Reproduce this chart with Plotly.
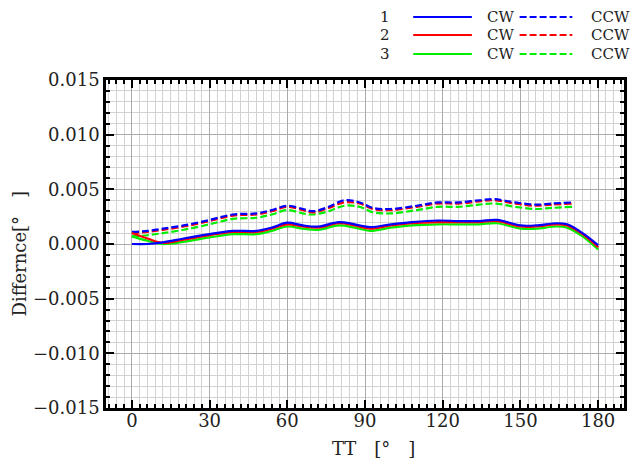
import plotly.graph_objects as go

# ---- data ----
tt_cw = [0, 6, 12, 20, 30, 39, 48, 54, 60, 66, 72, 80, 86, 92, 100, 108, 118, 126, 134, 141, 150, 156, 164, 168, 174, 180]
cw1 = [0.0, 0.0, 0.00015, 0.0005, 0.0009, 0.0012, 0.0012, 0.0015, 0.00195, 0.0017, 0.0016, 0.0020, 0.0018, 0.00155,
       0.0018, 0.0020, 0.00215, 0.0021, 0.0021, 0.0022, 0.0017, 0.0017, 0.0019, 0.0018, 0.0010, -0.0001]
cw2 = [0.0010, 0.0005, 0.0001, 0.0004, 0.0008, 0.0011, 0.0011, 0.0014, 0.0018, 0.0016, 0.0015, 0.0019, 0.0017, 0.0014,
       0.0017, 0.0019, 0.0020, 0.0020, 0.0020, 0.0021, 0.0016, 0.0016, 0.0018, 0.0017, 0.0009, -0.0003]
cw3 = [0.0007, 0.0003, 0.0000, 0.0002, 0.0006, 0.0009, 0.0009, 0.0012, 0.0016, 0.0014, 0.0013, 0.0017, 0.0015, 0.0012,
       0.0015, 0.0017, 0.0018, 0.0018, 0.0018, 0.0019, 0.0014, 0.0014, 0.0016, 0.0015, 0.0007, -0.0005]

tt_ccw = [0, 6, 12, 20, 30, 39, 48, 54, 60, 66, 70, 76, 82, 88, 93, 100, 110, 118, 126, 134, 140, 148, 156, 162, 170]
ccw1 = [0.0011, 0.0012, 0.0014, 0.0017, 0.0022, 0.0027, 0.0028, 0.0031, 0.0035, 0.0032, 0.0030, 0.0034, 0.0040, 0.0038,
        0.0033, 0.0032, 0.0035, 0.0038, 0.0038, 0.0040, 0.0041, 0.0038, 0.0036, 0.0037, 0.0038]
ccw2 = [0.0010, 0.0011, 0.0013, 0.0016, 0.0021, 0.0026, 0.0027, 0.0030, 0.0034, 0.0031, 0.0029, 0.0033, 0.0038, 0.0037,
        0.0032, 0.0031, 0.0034, 0.0037, 0.0037, 0.0039, 0.0040, 0.0037, 0.0035, 0.0036, 0.0037]
ccw3 = [0.0007, 0.0008, 0.0010, 0.0013, 0.0018, 0.0023, 0.0024, 0.0027, 0.0031, 0.0028, 0.0027, 0.0030, 0.0035, 0.0034,
        0.0029, 0.0028, 0.0031, 0.0034, 0.0034, 0.0036, 0.0037, 0.0034, 0.0032, 0.0033, 0.0034]

series_names = ["1", "2", "3"]
colors = ["#0000ff", "#ff0000", "#00ee00"]
x_ticks = [0, 30, 60, 90, 120, 150, 180]
y_ticks = [-0.015, -0.010, -0.005, 0.000, 0.005, 0.010, 0.015]
y_tick_text = ["\u22120.015", "\u22120.010", "\u22120.005", "0.000", "0.005", "0.010", "0.015"]

FONT = "DejaVu Serif"
DASH = "7px,3px"

fig = go.Figure()
for ys, c in zip([ccw3, ccw2, ccw1], colors[::-1]):
    fig.add_trace(go.Scatter(x=tt_ccw, y=ys, mode="lines", line=dict(color=c, width=2.2, dash=DASH, shape="spline"),
                             showlegend=False))
for ys, c in zip([cw3, cw2, cw1], colors[::-1]):
    fig.add_trace(go.Scatter(x=tt_cw, y=ys, mode="lines", line=dict(color=c, width=2.2, shape="spline"),
                             showlegend=False))

fig.update_layout(
    width=635, height=460,
    margin=dict(l=106, r=8, t=80, b=52),
    paper_bgcolor="white", plot_bgcolor="white",
    font=dict(family=FONT, size=18, color="#222"),
)
fig.update_xaxes(
    range=[-10, 190], tickvals=x_ticks, ticks="inside", ticklen=8, tickwidth=1.5, tickcolor="black",
    showgrid=True, gridcolor="#ababab", gridwidth=1.2,
    minor=dict(dtick=3, tick0=0, ticks="inside", ticklen=4, tickcolor="black", showgrid=True, gridcolor="#d2d2d2", gridwidth=1),
    showline=True, linecolor="black", linewidth=2.5, mirror="allticks", zeroline=False,
    tickfont=dict(family=FONT, size=18), ticklabelstandoff=-5,
)
fig.update_yaxes(
    range=[-0.015, 0.015], tickvals=y_ticks, ticktext=y_tick_text, ticks="inside", ticklen=8, tickwidth=1.5, tickcolor="black",
    showgrid=True, gridcolor="#ababab", gridwidth=1.2,
    minor=dict(dtick=0.001, tick0=0, ticks="inside", ticklen=4, tickcolor="black", showgrid=True, gridcolor="#d2d2d2", gridwidth=1),
    showline=True, linecolor="black", linewidth=2.5, mirror="allticks", zeroline=False,
    tickfont=dict(family=FONT, size=18),
)

# axis titles
fig.add_annotation(text="TT\u3000[°\u3000]", xref="paper", yref="paper", x=(375 - 106) / 521, y=(408 - 448) / 328,
                   showarrow=False, font=dict(family=FONT, size=18), xanchor="center", yanchor="middle")
fig.add_annotation(text="Differnce[°\u3000]", xref="paper", yref="paper", x=(18 - 106) / 521, y=(408 - 254) / 328,
                   showarrow=False, textangle=-90, font=dict(family=FONT, size=18), xanchor="center", yanchor="middle")

# custom legend
def px_x(p):
    return (p - 106) / 521

def px_y(p):
    return (408 - p) / 328

row_y = [17, 35, 54]
for name, c, ry in zip(series_names, colors, row_y):
    fig.add_annotation(text=name, xref="paper", yref="paper", x=px_x(387), y=px_y(ry), showarrow=False,
                       font=dict(family=FONT, size=15), xanchor="center", yanchor="middle")
    fig.add_shape(type="line", xref="paper", yref="paper", x0=px_x(415), x1=px_x(474), y0=px_y(ry), y1=px_y(ry),
                  line=dict(color=c, width=2.2))
    fig.add_annotation(text="CW", xref="paper", yref="paper", x=px_x(503), y=px_y(ry), showarrow=False,
                       font=dict(family=FONT, size=15), xanchor="center", yanchor="middle")
    fig.add_shape(type="line", xref="paper", yref="paper", x0=px_x(522), x1=px_x(575), y0=px_y(ry), y1=px_y(ry),
                  line=dict(color=c, width=2.2, dash=DASH))
    fig.add_annotation(text="CCW", xref="paper", yref="paper", x=px_x(613), y=px_y(ry), showarrow=False,
                       font=dict(family=FONT, size=15), xanchor="center", yanchor="middle")

fig.write_html("out.html")
